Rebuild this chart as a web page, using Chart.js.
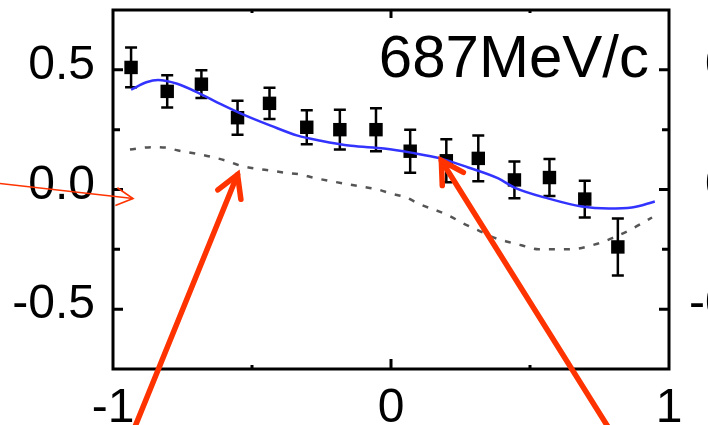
<!DOCTYPE html>
<html>
<head>
<meta charset="utf-8">
<script src="https://cdn.jsdelivr.net/npm/chart.js@4.4.1/dist/chart.umd.min.js"></script>
<style>
  html, body { margin: 0; padding: 0; background: #fff; }
  #wrap { width: 708px; height: 425px; position: relative; overflow: hidden; }
</style>
</head>
<body>
<div id="wrap"><canvas id="asym" width="708" height="425"></canvas></div>
<script>
// measured points: cos(theta), value, error
var cosTheta = [-0.935, -0.805, -0.682, -0.552, -0.437, -0.303, -0.184, -0.054, 0.069, 0.199, 0.314, 0.444, 0.570, 0.697, 0.816];
var asym     = [0.51, 0.41, 0.44, 0.30, 0.36, 0.26, 0.25, 0.25, 0.16, 0.12, 0.13, 0.04, 0.05, -0.04, -0.24];
var asymErr  = [0.083, 0.067, 0.058, 0.071, 0.065, 0.071, 0.083, 0.09, 0.09, 0.09, 0.096, 0.077, 0.077, 0.077, 0.119];

// full model (solid blue)
var fitX = [-0.935, -0.88, -0.838, -0.769, -0.686, -0.614, -0.531, -0.433, -0.336, -0.253, -0.144, -0.025, 0.072, 0.181, 0.278, 0.386, 0.444, 0.567, 0.686, 0.783, 0.866, 0.949];
var fitY = [0.417, 0.448, 0.458, 0.442, 0.400, 0.358, 0.313, 0.267, 0.225, 0.204, 0.183, 0.171, 0.154, 0.129, 0.092, 0.046, 0.008, -0.038, -0.071, -0.079, -0.075, -0.050];

// alternative model (dashed)
var altX = [-0.939, -0.86, -0.812, -0.765, -0.704, -0.650, -0.596, -0.542, -0.487, -0.433, -0.386, -0.325, -0.278, -0.108, -0.047, 0.0, 0.054, 0.097, 0.206, 0.26, 0.314, 0.368, 0.415, 0.469, 0.531, 0.639, 0.747, 0.794, 0.856, 0.939];
var altY = [0.167, 0.177, 0.175, 0.163, 0.150, 0.1375, 0.121, 0.100, 0.0875, 0.079, 0.071, 0.0625, 0.049, 0.0125, 0.0, -0.017, -0.033, -0.058, -0.108, -0.142, -0.171, -0.200, -0.217, -0.233, -0.250, -0.250, -0.225, -0.204, -0.171, -0.117];

var xTicks = [-1, 0, 1];
var xMinor = [-0.5, 0.5];
var yTicks = [-0.5, 0, 0.5];
var yMinor = [-0.25, 0.25];
var nextPanelLabels = ['0.5', '0.0', '-0.5'];
var momentumLabel = '687MeV/c';

// annotation arrows, tail -> head, in data units
var arrowFrom = [[-1.408, 0.025], [-0.924, -1.0], [0.785, -1.0]];
var arrowTo   = [[-0.928, -0.0375], [-0.552, 0.0625], [0.181, 0.121]];

var FONT = '"Liberation Sans", Arial, sans-serif';

function toPoints(xs, ys) {
    return xs.map(function (x, i) { return {x: x, y: ys[i]}; });
}

function drawArrow(ctx, x0, y0, x1, y1, width, armLen, armAngle) {
    var back = Math.atan2(y0 - y1, x0 - x1);
    ctx.save();
    ctx.strokeStyle = '#ff3300';
    ctx.lineWidth = width;
    ctx.lineCap = width > 2 ? 'round' : 'butt';
    ctx.lineJoin = 'miter';
    ctx.beginPath();
    ctx.moveTo(x0, y0);
    ctx.lineTo(x1, y1);
    ctx.stroke();
    ctx.beginPath();
    ctx.moveTo(x1 + armLen * Math.cos(back + armAngle), y1 + armLen * Math.sin(back + armAngle));
    ctx.lineTo(x1, y1);
    ctx.lineTo(x1 + armLen * Math.cos(back - armAngle), y1 + armLen * Math.sin(back - armAngle));
    ctx.stroke();
    ctx.restore();
}

var framePlugin = {
    id: 'frame',
    beforeDatasetsDraw: function (chart) {
        var ctx = chart.ctx, xs = chart.scales.x, ys = chart.scales.y;
        ctx.save();
        ctx.strokeStyle = '#000';
        ctx.lineWidth = 2.5;
        for (var i = 0; i < cosTheta.length; i++) {
            var px = xs.getPixelForValue(cosTheta[i]);
            var top = ys.getPixelForValue(asym[i] + asymErr[i]);
            var bot = ys.getPixelForValue(asym[i] - asymErr[i]);
            ctx.beginPath();
            ctx.moveTo(px, top); ctx.lineTo(px, bot);
            ctx.moveTo(px - 6, top); ctx.lineTo(px + 6, top);
            ctx.moveTo(px - 6, bot); ctx.lineTo(px + 6, bot);
            ctx.stroke();
        }
        ctx.restore();
    },
    afterDraw: function (chart) {
        var ctx = chart.ctx, a = chart.chartArea, xs = chart.scales.x, ys = chart.scales.y;
        ctx.save();
        ctx.strokeStyle = '#000';
        ctx.lineWidth = 3;
        ctx.strokeRect(a.left, a.top, a.right - a.left, a.bottom - a.top);

        // inward ticks on all four sides
        ctx.beginPath();
        xTicks.concat(xMinor).forEach(function (v) {
            var p = xs.getPixelForValue(v);
            if (p <= a.left + 1 || p >= a.right - 1) return;
            var major = xTicks.indexOf(v) >= 0;
            ctx.moveTo(p, a.bottom); ctx.lineTo(p, a.bottom - (major ? 10 : 4));
            ctx.moveTo(p, a.top); ctx.lineTo(p, a.top + (major ? 8 : 3));
        });
        yTicks.concat(yMinor).forEach(function (v) {
            var p = ys.getPixelForValue(v);
            var len = yTicks.indexOf(v) >= 0 ? 10 : 7;
            ctx.moveTo(a.left, p); ctx.lineTo(a.left + len, p);
            ctx.moveTo(a.right, p); ctx.lineTo(a.right - len, p);
        });
        ctx.stroke();

        ctx.fillStyle = '#000';
        ctx.font = '60px ' + FONT;
        ctx.textAlign = 'right';
        ctx.textBaseline = 'alphabetic';
        ctx.fillText(momentumLabel, a.right - 20, a.top + 67);

        // labels of the adjacent panel, running off the right edge
        ctx.font = '48px ' + FONT;
        ctx.textAlign = 'left';
        ctx.textBaseline = 'middle';
        yTicks.slice().reverse().forEach(function (v, i) {
            var lbl = nextPanelLabels[i];
            var x = lbl.charAt(0) === '-' ? 689 : 705;
            ctx.fillText(lbl, x, ys.getPixelForValue(v) - 4);
        });
        ctx.restore();

        for (var k = 0; k < arrowFrom.length; k++) {
            var x0 = xs.getPixelForValue(arrowFrom[k][0]), y0 = ys.getPixelForValue(arrowFrom[k][1]);
            var x1 = xs.getPixelForValue(arrowTo[k][0]), y1 = ys.getPixelForValue(arrowTo[k][1]);
            if (k === 0) {
                drawArrow(ctx, x0, y0, x1, y1, 1.6, 19, 0.49);
            } else {
                drawArrow(ctx, x0, y0, x1, y1, 5.5, 25, 0.52);
            }
        }
    }
};

var ctx = document.getElementById('asym');
var chart = new Chart(ctx, {
    type: 'line',
    data: {
        datasets: [
            {
                data: toPoints(fitX, fitY),
                borderColor: '#3333ff',
                borderWidth: 2.5,
                pointRadius: 0,
                fill: false,
                cubicInterpolationMode: 'monotone'
            },
            {
                data: toPoints(altX, altY),
                borderColor: '#555555',
                borderWidth: 2.5,
                borderDash: [6, 9],
                pointRadius: 0,
                fill: false,
                cubicInterpolationMode: 'monotone'
            },
            {
                data: toPoints(cosTheta, asym),
                showLine: false,
                pointStyle: 'rect',
                pointRadius: 9.5,
                pointBorderWidth: 0,
                pointBackgroundColor: '#000',
                pointBorderColor: '#000'
            }
        ]
    },
    options: {
        responsive: false,
        devicePixelRatio: 1,
        animation: false,
        layout: {padding: {top: 10, right: 39, left: 0, bottom: 0}},
        plugins: {legend: {display: false}, tooltip: {enabled: false}},
        scales: {
            x: {
                type: 'linear',
                min: -1,
                max: 1,
                afterBuildTicks: function (s) { s.ticks = xTicks.map(function (v) { return {value: v}; }); },
                afterFit: function (s) { s.height = 56; s.paddingLeft = 0; s.paddingRight = 0; },
                grid: {display: false},
                border: {display: false},
                ticks: {
                    autoSkip: false,
                    maxRotation: 0,
                    padding: 3,
                    color: '#000',
                    font: {family: FONT, size: 48},
                    callback: function (v) { return String(v); }
                }
            },
            y: {
                type: 'linear',
                min: -0.75,
                max: 0.75,
                afterBuildTicks: function (s) { s.ticks = yTicks.map(function (v) { return {value: v}; }); },
                afterFit: function (s) { s.width = 113; s.paddingTop = 0; s.paddingBottom = 0; },
                grid: {display: false},
                border: {display: false},
                ticks: {
                    autoSkip: false,
                    padding: 10,
                    labelOffset: -4,
                    color: '#000',
                    font: {family: FONT, size: 48},
                    callback: function (v) { return v.toFixed(1); }
                }
            }
        }
    },
    plugins: [framePlugin]
});
</script>
</body>
</html>
